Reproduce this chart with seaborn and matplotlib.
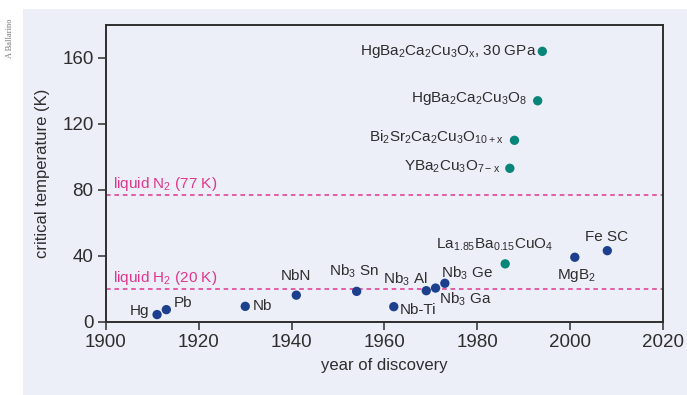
import matplotlib
matplotlib.use("Agg")
import matplotlib.pyplot as plt
import matplotlib.patches as mpatches
import seaborn as sns
import pandas as pd

# Superconductors: label, year of discovery, critical temperature (K), family
labels = [
    "Hg", "Pb", "Nb", "NbN", r"Nb$_3$ Sn", "Nb-Ti", r"Nb$_3$ Al", r"Nb$_3$ Ga",
    r"Nb$_3$ Ge", r"La$_{1.85}$Ba$_{0.15}$CuO$_4$", r"YBa$_2$Cu$_3$O$_{7-x}$",
    r"Bi$_2$Sr$_2$Ca$_2$Cu$_3$O$_{10+x}$", r"HgBa$_2$Ca$_2$Cu$_3$O$_8$",
    r"HgBa$_2$Ca$_2$Cu$_3$O$_x$, 30 GPa", r"MgB$_2$", "Fe SC",
]
years = [1911, 1913, 1930, 1941, 1954, 1962, 1969, 1971,
         1973, 1986, 1987, 1988, 1993, 1994, 2001, 2008]
tc = [4.2, 7.2, 9.2, 16.0, 18.3, 9.0, 18.7, 20.3,
      23.2, 35.0, 93.0, 110.0, 134.0, 164.0, 39.0, 43.0]
family = ["metal"] * 9 + ["cuprate"] * 5 + ["metal"] * 2

# label placement: (dx, dy) in pixels, horizontal alignment
label_offsets = [
    (-8, 4, "right"), (7, 7, "left"), (8, 0, "left"), (0, 19, "center"),
    (-3, 20, "center"), (6, -3, "left"), (2, 11, "right"), (3, -11, "left"),
    (-4, 10, "left"), (-11, 19, "center"), (-10, 2, "right"),
    (-11, 3, "right"), (-11, 2, "right"), (-6, 0, "right"),
    (2, -18, "center"), (-1, 14, "center"),
]

coolants = ["liquid N$_2$ (77 K)", "liquid H$_2$ (20 K)"]
coolant_temps = [77, 20]

year_ticks = [1900, 1920, 1940, 1960, 1980, 2000, 2020]
tc_ticks = [0, 40, 80, 120, 160]

BG = "#ECEEF8"
BLUE = "#1C3F8E"
TEAL = "#078578"
PINK = "#E0368C"
INK = "#2E2E2E"

sns.set_style("ticks")
plt.rcParams["font.family"] = ["Liberation Sans", "DejaVu Sans"]
plt.rcParams["mathtext.fontset"] = "custom"
plt.rcParams["mathtext.rm"] = "Liberation Sans"
plt.rcParams["mathtext.it"] = "Liberation Sans:italic"
plt.rcParams["mathtext.default"] = "regular"

df = pd.DataFrame({"label": labels, "year": years, "tc": tc, "family": family})

fig = plt.figure(figsize=(6.87, 3.95), dpi=100, facecolor="white")
panel = mpatches.Rectangle((23 / 687, 0), 1, (395 - 9) / 395,
                           transform=fig.transFigure,
                           facecolor=BG, edgecolor="none", zorder=-5)
fig.add_artist(panel)
ax = fig.add_axes([106 / 687, (395 - 321.5) / 395, 557 / 687, 296.5 / 395])
ax.set_zorder(5)
ax.set_facecolor(BG)

for t in coolant_temps:
    ax.axhline(t, color=PINK, lw=1.1, ls=(0, (3, 2.5)), zorder=1)
for txt, t in zip(coolants, coolant_temps):
    ax.annotate(txt, (1900, t), xytext=(7, 11), textcoords="offset pixels",
                color=PINK, fontsize=11, ha="left", va="center")

sns.scatterplot(data=df, x="year", y="tc", hue="family",
                palette={"metal": BLUE, "cuprate": TEAL},
                s=45, edgecolor="none", legend=False, ax=ax, zorder=3)

for lab, x, y, (dx, dy, ha) in zip(labels, years, tc, label_offsets):
    ax.annotate(lab, (x, y), xytext=(dx, dy), textcoords="offset pixels",
                ha=ha, va="center", fontsize=11, color=INK)

ax.set_xlim(1900, 2020)
ax.set_ylim(0, 180)
ax.set_xticks(year_ticks)
ax.set_yticks(tc_ticks)
ax.tick_params(axis="both", direction="out", length=6, width=1.1,
               color=INK, labelsize=13.5, labelcolor=INK, pad=3)
for side in ["left", "right", "top", "bottom"]:
    ax.spines[side].set_visible(True)
    ax.spines[side].set_color(INK)
    ax.spines[side].set_linewidth(1.4)

ax.set_xlabel("year of discovery", fontsize=12, color=INK, labelpad=5)
ax.set_ylabel("critical temperature (K)", fontsize=12, color=INK)
ax.yaxis.set_label_coords(-0.1, 0.5)

fig.text(10 / 687, 1 - 38 / 395, "A Ballarino", rotation=90, fontsize=6,
         color="#777777", family=["Liberation Serif", "DejaVu Serif"],
         ha="center", va="center")

fig.savefig("out.png", dpi=100, facecolor="white")
